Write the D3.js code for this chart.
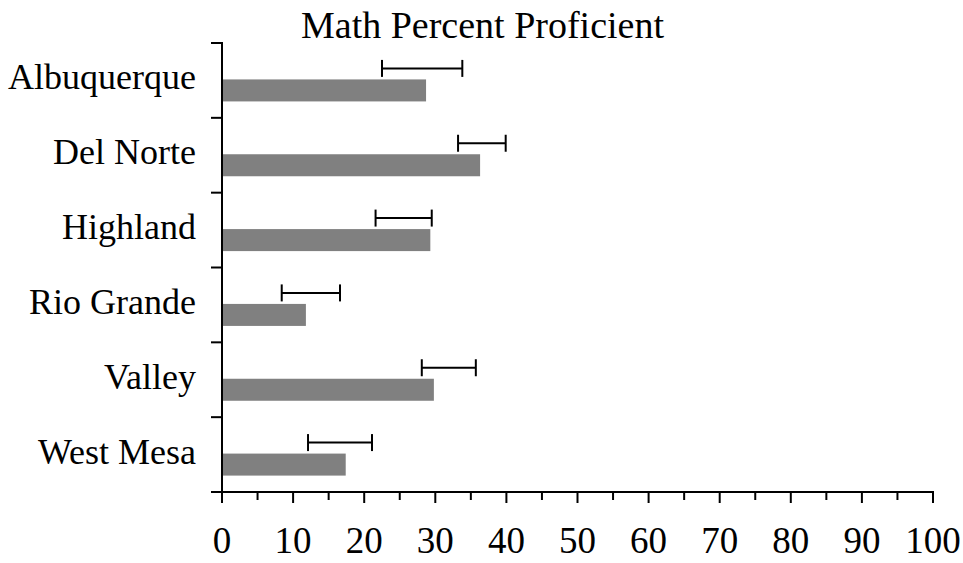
<!DOCTYPE html>
<html>
<head>
<meta charset="utf-8">
<script src="https://cdn.jsdelivr.net/npm/d3@7"></script>
<style>
  html, body { margin: 0; padding: 0; background: #fff; }
  svg { display: block; }
  text { font-family: "Liberation Serif", "Times New Roman", serif; fill: #000; }
</style>
</head>
<body>
<svg id="chart" width="963" height="563"></svg>
<script>
// Data
const categories = ["Albuquerque", "Del Norte", "Highland", "Rio Grande", "Valley", "West Mesa"];
const percentProficient = [28.7, 36.3, 29.3, 11.8, 29.8, 17.4];
const rangeLow  = [22.5, 33.2, 21.6, 8.4, 28.1, 12.1];
const rangeHigh = [33.8, 39.9, 29.5, 16.6, 35.7, 21.1];
const xTickValues = [0, 10, 20, 30, 40, 50, 60, 70, 80, 90, 100];
const xMinorTicks = [5, 15, 25, 35, 45, 55, 65, 75, 85, 95];
const chartTitle = "Math Percent Proficient";

const svg = d3.select("#chart");
const pLeft = 222, pRight = 933, pTop = 43, pBottom = 492;

const x = d3.scaleLinear().domain([0, 100]).range([pLeft, pRight]);
const y = d3.scaleBand().domain(categories).range([pTop, pBottom]).padding(0);
const sub = d3.scaleBand().domain(["range", "value"]).range([0, y.bandwidth()])
  .paddingInner(0).paddingOuter(0.7);

// Bars
svg.append("g").selectAll("rect")
  .data(categories)
  .join("rect")
  .attr("x", x(0))
  .attr("y", (d) => y(d) + sub("value") - 1)
  .attr("width", (d, i) => x(percentProficient[i]) - x(0))
  .attr("height", sub.bandwidth())
  .attr("fill", "#808080");

// Range (error) bars
const eb = svg.append("g").attr("stroke", "#000").attr("stroke-width", 2).attr("fill", "none");
categories.forEach((c, i) => {
  const cy = y(c) + sub("range") + sub.bandwidth() / 2 - 1;
  eb.append("line").attr("x1", x(rangeLow[i])).attr("x2", x(rangeHigh[i])).attr("y1", cy).attr("y2", cy);
  [rangeLow[i], rangeHigh[i]].forEach(v => {
    eb.append("line").attr("x1", x(v)).attr("x2", x(v)).attr("y1", cy - 8.5).attr("y2", cy + 8.5);
  });
});

// Y axis (ticks at band boundaries)
const yAxisG = svg.append("g").attr("stroke", "#000").attr("stroke-width", 2);
yAxisG.append("line").attr("x1", pLeft).attr("x2", pLeft).attr("y1", pTop - 1).attr("y2", pBottom + 1);
const boundaries = categories.map(c => y(c)).concat([pBottom]);
yAxisG.selectAll("line.tick").data(boundaries).join("line").attr("class", "tick")
  .attr("x1", pLeft - 11).attr("x2", pLeft).attr("y1", d => d).attr("y2", d => d);

// Category labels
svg.append("g").selectAll("text").data(categories).join("text")
  .attr("x", 196)
  .attr("y", d => y(d) + y.bandwidth() / 2 + 9)
  .attr("text-anchor", "end")
  .attr("font-size", 36)
  .text(d => d);

// X axis
const xAxisG = svg.append("g").attr("stroke", "#000").attr("stroke-width", 2);
xAxisG.append("line").attr("x1", pLeft - 11).attr("x2", pRight + 1).attr("y1", pBottom).attr("y2", pBottom);
xAxisG.selectAll("line.major").data(xTickValues).join("line").attr("class", "major")
  .attr("x1", d => x(d)).attr("x2", d => x(d)).attr("y1", pBottom).attr("y2", pBottom + 11);
xAxisG.selectAll("line.minor").data(xMinorTicks).join("line").attr("class", "minor")
  .attr("x1", d => x(d)).attr("x2", d => x(d)).attr("y1", pBottom).attr("y2", pBottom + 8);

svg.append("g").selectAll("text").data(xTickValues).join("text")
  .attr("x", d => x(d))
  .attr("y", 553)
  .attr("text-anchor", "middle")
  .attr("font-size", 37)
  .text(d => d);

// Title
svg.append("text")
  .attr("x", 482.5)
  .attr("y", 38)
  .attr("text-anchor", "middle")
  .attr("font-size", 38)
  .text(chartTitle);
</script>
</body>
</html>
